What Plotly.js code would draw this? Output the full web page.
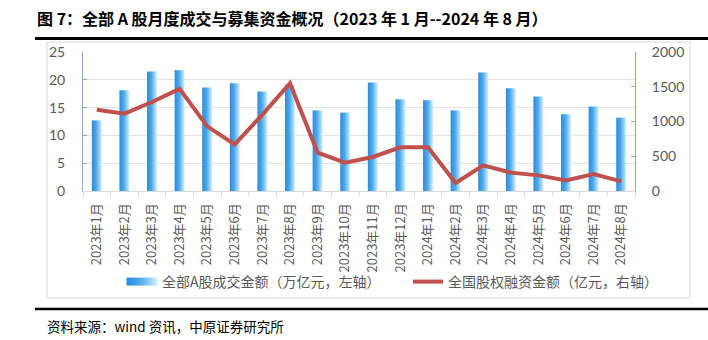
<!DOCTYPE html>
<html>
<head>
<meta charset="utf-8">
<script src="https://cdn.plot.ly/plotly-3.0.1.min.js"></script>
<style>
html,body{margin:0;padding:0;background:#fff;}
#chart{width:708px;height:340px;}
</style>
</head>
<body>
<div id="chart"></div>
<script>
const months = ['2023年1月','2023年2月','2023年3月','2023年4月','2023年5月','2023年6月','2023年7月','2023年8月','2023年9月','2023年10月','2023年11月','2023年12月','2024年1月','2024年2月','2024年3月','2024年4月','2024年5月','2024年6月','2024年7月','2024年8月'];
const turnover = [12.7, 18.1, 21.5, 21.7, 18.6, 19.4, 17.9, 19.1, 14.5, 14.1, 19.5, 16.5, 16.3, 14.5, 21.3, 18.5, 17.0, 13.8, 15.2, 13.2];
const financing = [1170, 1113, 1280, 1470, 930, 671, 1100, 1550, 552, 408, 489, 628, 628, 115, 369, 264, 225, 153, 244, 139];
const leftTicks = [0, 5, 10, 15, 20, 25];
const rightTicks = [0, 500, 1000, 1500, 2000];
const barName = '全部A股成交金额（万亿元，左轴）';
const lineName = '全国股权融资金额（亿元，右轴）';
const titleText = '<b>图 7：全部 A 股月度成交与募集资金概况（2023 年 1 月--2024 年 8 月）</b>';
const sourceText = '资料来源：wind 资讯，中原证券研究所';

const CJK = '"Noto Sans CJK SC", "Noto Sans", sans-serif';
const NUM = 'Lato, "Noto Sans", sans-serif';
const axisBlue = '#8AA6D2';
const grey = '#595959';

// plot area in pixels: x 83..635, y 52..191
const L = 83, R = 635, T = 52, B = 191;
const px = x => (x - L) / (R - L);
const py = y => (B - y) / (B - T);

const traces = [
  {
    type: 'bar', x: months, y: turnover, name: barName,
    marker: {color: '#4FACEA', line: {width: 0}},
    yaxis: 'y', hoverinfo: 'skip', legend: 'legend'
  },
  {
    type: 'scatter', mode: 'lines', x: months, y: financing, name: lineName,
    line: {color: '#C0504D', width: 4},
    yaxis: 'y2', hoverinfo: 'skip', legend: 'legend2'
  }
];

const legendBase = {
  orientation: 'h', xanchor: 'left', y: py(282), yanchor: 'middle',
  font: {family: CJK, size: 14, color: grey},
  bgcolor: 'rgba(0,0,0,0)', borderwidth: 0
};

const layout = {
  width: 708, height: 340,
  margin: {l: L, r: 708 - R, t: T, b: 340 - B},
  paper_bgcolor: '#fff', plot_bgcolor: '#fff',
  font: {family: CJK, color: grey, size: 13},
  bargap: 0.64,
  showlegend: true,
  legend: Object.assign({}, legendBase, {x: px(122)}),
  legend2: Object.assign({}, legendBase, {x: px(408)}),
  xaxis: {
    type: 'category', showgrid: false, zeroline: false,
    showline: true, linecolor: '#D9D9D9', linewidth: 1,
    ticks: 'outside', tickson: 'boundaries', ticklen: 5, tickcolor: '#D9D9D9',
    tickangle: -90, tickfont: {family: CJK, size: 13, color: grey},
    ticklabelstandoff: 6
  },
  yaxis: {
    range: [0, 25], tickvals: leftTicks, ticktext: leftTicks.map(String),
    showgrid: true, gridcolor: '#E3E3E3', gridwidth: 1, zeroline: false,
    showline: true, linecolor: axisBlue, linewidth: 1,
    ticks: 'inside', ticklen: 4, tickcolor: axisBlue,
    tickfont: {family: NUM, size: 14, color: grey}, ticklabelstandoff: 14
  },
  yaxis2: {
    range: [0, 2000], tickvals: rightTicks, ticktext: rightTicks.map(String),
    overlaying: 'y', side: 'right',
    showgrid: false, zeroline: false,
    showline: true, linecolor: axisBlue, linewidth: 1,
    ticks: 'inside', ticklen: 4, tickcolor: axisBlue,
    tickfont: {family: NUM, size: 14, color: grey}, ticklabelstandoff: 13
  },
  shapes: [
    {type: 'rect', xref: 'paper', yref: 'paper', x0: px(47), x1: px(690), y0: py(298), y1: py(42),
     line: {color: '#D9D9D9', width: 1}, fillcolor: 'rgba(0,0,0,0)', layer: 'below'},
    {type: 'line', xref: 'paper', yref: 'paper', x0: px(35), x1: px(708), y0: py(38.5), y1: py(38.5),
     line: {color: '#000', width: 3}},
    {type: 'line', xref: 'paper', yref: 'paper', x0: px(35), x1: px(708), y0: py(309), y1: py(309),
     line: {color: '#000', width: 2.5}}
  ],
  annotations: [
    {text: titleText, xref: 'paper', yref: 'paper', x: px(35), y: py(18), xanchor: 'left', yanchor: 'middle',
     showarrow: false, font: {family: CJK, size: 16, color: '#000'}},
    {text: sourceText, xref: 'paper', yref: 'paper', x: px(45), y: py(326), xanchor: 'left', yanchor: 'middle',
     showarrow: false, font: {family: CJK, size: 13.5, color: '#000'}}
  ]
};

Plotly.newPlot('chart', traces, layout, {staticPlot: true, displayModeBar: false}).then(function(gd) {
  const svg = gd.querySelector('.main-svg');
  const ns = 'http://www.w3.org/2000/svg';
  let defs = svg.querySelector('defs');
  if (!defs) { defs = document.createElementNS(ns, 'defs'); svg.insertBefore(defs, svg.firstChild); }
  const grad = document.createElementNS(ns, 'linearGradient');
  grad.setAttribute('id', 'barGrad');
  grad.setAttribute('x1', '0'); grad.setAttribute('y1', '0');
  grad.setAttribute('x2', '1'); grad.setAttribute('y2', '0');
  [['0', '#2B8ADE'], ['0.45', '#4DAAE9'], ['1', '#D4EFFB']].forEach(function(s) {
    const st = document.createElementNS(ns, 'stop');
    st.setAttribute('offset', s[0]); st.setAttribute('stop-color', s[1]);
    grad.appendChild(st);
  });
  defs.appendChild(grad);
  gd.querySelectorAll('.barlayer .point path').forEach(function(p) { p.style.fill = 'url(#barGrad)'; });
  gd.querySelectorAll('.legend .legendpoints path').forEach(function(p) {
    if (p.closest('.legendbar') || p.classList.contains('legendundefined')) {
      p.setAttribute('d', 'M15.5,4H-15.5V-4H15.5Z'); p.style.fill = 'url(#barGrad)'; p.style.stroke = 'none';
    }
  });
});
</script>
</body>
</html>
